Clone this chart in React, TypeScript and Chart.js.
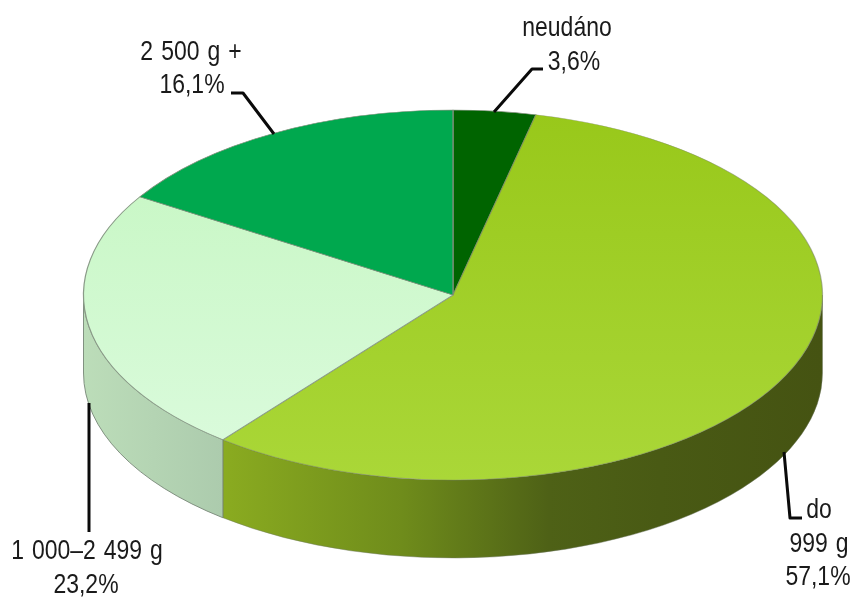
import React, { useEffect, useRef } from "react";
import { Chart, registerables } from "chart.js";

Chart.register(...registerables);

const categories = ["neudáno", "do 999 g", "1 000–2 499 g", "2 500 g +"];
const shares = [3.6, 57.1, 23.2, 16.1];
const labelLines = [
  ["neudáno", "3,6%"],
  ["do", "999 g", "57,1%"],
  ["1 000–2 499 g", "23,2%"],
  ["2 500 g +", "16,1%"],
];

const topStops = [
  ["#006400", "#006400"],
  ["#98C81A", "#AAD738"],
  ["#C4F6C0", "#DCFBDE"],
  ["#00A84E", "#00A84E"],
];
const wallStops: [number, string][][] = [
  [[0, "#004000"], [1, "#004000"]],
  [[0, "#A0C828"], [0.19, "#8AAB20"], [0.43, "#6F8C1B"], [0.63, "#4E6116"], [0.78, "#495A14"], [1, "#455312"]],
  [[0, "#BCDDB9"], [0.19, "#ACCBAD"], [1, "#ACCBAD"]],
  [[0, "#00702F"], [1, "#00702F"]],
];

const ELLIPSE = { cx: 453, cy: 295, rx: 369.5, ry: 185, depth: 78 };
const FONT = '28px "Liberation Sans", sans-serif';
const TEXT_NARROWING = 0.82;
const labelAnchors: [number, number][][] = [
  [[567, 36], [574, 70]],
  [[819, 518], [819, 552], [818, 585]],
  [[87, 559], [86, 593]],
  [[191, 60], [192, 93]],
];
const leaders: [number, number][][] = [
  [[494, 112], [532, 69], [543, 69]],
  [[784, 452], [790, 518], [802, 518]],
  [[89, 403], [89, 532]],
  [[274, 134], [243, 93], [231, 93]],
];

const pie3d = {
  id: "pie3d",
  beforeDatasetsDraw(chart: any) {
    const { ctx } = chart;
    const arcs = chart.getDatasetMeta(0).data;
    const { cx, cy, rx, ry, depth } = ELLIPSE;
    ctx.save();
    arcs.forEach((arc: any, i: number) => {
      const a = Math.max(arc.startAngle, 0);
      const b = Math.min(arc.endAngle, Math.PI);
      if (a >= b) return;
      const g = ctx.createLinearGradient(cx - rx, 0, cx + rx, 0);
      wallStops[i].forEach(([o, c]) => g.addColorStop(o, c));
      ctx.beginPath();
      ctx.ellipse(cx, cy, rx, ry, 0, a, b);
      ctx.ellipse(cx, cy + depth, rx, ry, 0, b, a, true);
      ctx.closePath();
      ctx.fillStyle = g;
      ctx.fill();
      ctx.lineWidth = 1;
      ctx.strokeStyle = i === 1 ? "rgba(110,120,100,0.45)" : "rgba(120,135,120,0.9)";
      ctx.stroke();
    });
    ctx.restore();
    const first = arcs[0];
    const R = first.outerRadius;
    ctx.save();
    ctx.translate(cx, cy);
    ctx.scale(rx / R, ry / R);
    ctx.translate(-first.x, -first.y);
  },
  afterDatasetsDraw(chart: any) {
    chart.ctx.restore();
  },
  afterDraw(chart: any) {
    const { ctx } = chart;
    ctx.save();
    ctx.strokeStyle = "#0a0a0a";
    ctx.lineWidth = 3;
    ctx.lineJoin = "round";
    leaders.forEach((pts) => {
      ctx.beginPath();
      pts.forEach(([x, y], k) => (k ? ctx.lineTo(x, y) : ctx.moveTo(x, y)));
      ctx.stroke();
    });
    ctx.fillStyle = "#1a1a1a";
    ctx.font = FONT;
    ctx.wordSpacing = "2px";
    ctx.textAlign = "center";
    ctx.textBaseline = "alphabetic";
    labelLines.forEach((lines, i) =>
      lines.forEach((t, j) => {
        ctx.save();
        ctx.translate(labelAnchors[i][j][0], labelAnchors[i][j][1]);
        ctx.scale(TEXT_NARROWING, 1);
        ctx.fillText(t, 0, 0);
        ctx.restore();
      })
    );
    ctx.restore();
  },
};

export default function App() {
  const ref = useRef<HTMLCanvasElement | null>(null);
  useEffect(() => {
    const canvas = ref.current!;
    const ctx = canvas.getContext("2d")!;
    const fills = topStops.map(([a, b]) => {
      const g = ctx.createLinearGradient(0, 0, 0, 598);
      g.addColorStop(0, a);
      g.addColorStop(1, b);
      return g;
    });
    const chart = new Chart(canvas, {
      type: "pie",
      data: {
        labels: categories,
        datasets: [
          {
            data: shares,
            backgroundColor: fills,
            borderColor: ["#7f8f7a", "rgba(120,130,100,0.55)", "#8a9a88", "#7f8f7a"],
            borderWidth: 1,
          },
        ],
      },
      options: {
        responsive: false,
        animation: false,
        devicePixelRatio: 1,
        layout: { padding: 0 },
        plugins: { legend: { display: false }, tooltip: { enabled: false } },
      },
      plugins: [pie3d],
    } as any);
    return () => chart.destroy();
  }, []);
  return (
    <div style={{ position: "absolute", left: 0, top: 0, width: 856, height: 598, background: "#fff" }}>
      <canvas ref={ref} width={856} height={598} style={{ display: "block" }} />
    </div>
  );
}
